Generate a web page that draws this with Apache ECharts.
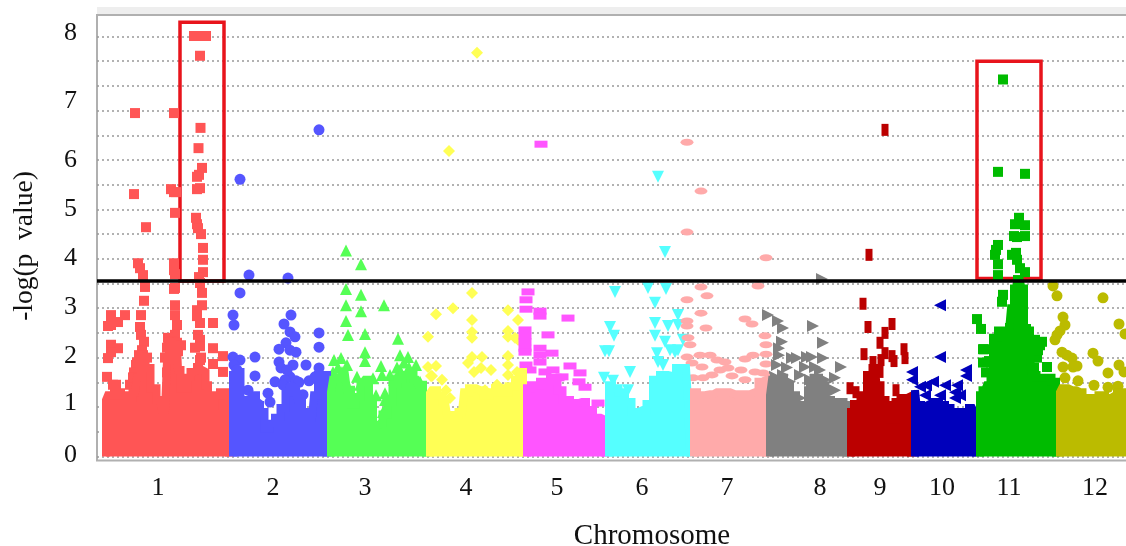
<!DOCTYPE html>
<html><head><meta charset="utf-8">
<style>html,body{margin:0;padding:0;background:#fff}#c{width:1126px;height:546px}</style>
<script src="https://cdn.jsdelivr.net/npm/echarts@6/dist/echarts.min.js"></script>
</head><body><div id="c"></div>
<script>
const chromosomeNames = ['1','2','3','4','5','6','7','8','9','10','11','12'];
const chromosomeLabelPositions = [61,176,268,369,460,545,630,723,783,845,912,998];
const yLabelValues = [0.03,1.08,2.03,3.02,4.02,5.01,6.0,7.19,8.57];
const yLabelTexts = ['0','1','2','3','4','5','6','7','8'];
const threshold = 3.55;
const highlightA = [[83,8.79],[127,3.55]];
const highlightB = [[880,8.0],[944,3.6]];

// solid mass of overlapping markers: [genome position, upper -log p]
const mass1 = [[9,0],[9,1.14],[13,1.24],[21,1.30],[27,1.24],[33,1.18],[38,1.30],[42,1.59],[46,1.85],[51,1.79],[56,1.38],[63,1.14],[67,0.92],[69,0.90],[71,1.95],[75,2.25],[80,2.25],[82,1.75],[85,1.38],[89,1.38],[92,1.59],[95,1.71],[99,1.75],[103,1.75],[107,1.71],[110,1.44],[112,1.14],[116,1.02],[119,1.24],[127,1.30],[132,1.24],[132,0]];
const mass2 = [[136,0],[136,1.65],[141,1.71],[146,1.14],[153,1.14],[157,1.24],[161,1.04],[165,0.90],[170,0.57],[175,0.66],[181,0.78],[186,0.98],[191,1.30],[199,1.38],[203,1.14],[207,0.90],[215,0.78],[219,1.24],[223,1.65],[230,1.65],[230,0]];
const mass3 = [[234,0],[234,1.30],[238,1.55],[243,1.60],[248,1.65],[252,1.35],[256,1.05],[261,1.20],[266,1.50],[270,1.55],[274,1.10],[278,0.62],[283,0.66],[288,0.85],[293,1.10],[298,1.45],[303,1.55],[308,1.65],[314,1.65],[319,1.55],[323,1.45],[329,0.90],[329,0]];
const mass4 = [[333,0],[333,1.28],[337,1.34],[343,1.24],[348,1.10],[352,0.84],[358,0.84],[365,0.90],[369,1.30],[375,1.38],[383,1.34],[390,1.24],[395,1.30],[401,1.38],[408,1.30],[415,1.42],[421,1.55],[426,1.71],[426,0]];
const mass5 = [[430,0],[430,1.38],[438,1.44],[448,1.51],[458,1.59],[463,1.34],[468,1.14],[478,1.08],[485,1.10],[493,0.94],[499,0.78],[508,0.74],[508,0]];
const mass6 = [[512,0],[512,1.44],[518,1.38],[525,1.30],[531,1.10],[538,0.90],[546,0.94],[553,1.06],[559,1.55],[567,1.65],[575,1.63],[583,1.79],[589,1.79],[593,1.14],[593,0]];
const mass7 = [[597,0],[597,1.30],[603,1.24],[613,1.26],[620,1.30],[628,1.30],[638,1.26],[648,1.26],[658,1.30],[665,1.51],[669,1.55],[669,0]];
const mass8 = [[673,0],[673,1.24],[677,1.55],[684,1.59],[690,1.44],[696,1.24],[702,0.94],[708,1.04],[714,1.34],[719,1.59],[725,1.44],[731,1.14],[737,1.04],[743,1.10],[750,1.04],[750,0]];
const mass9 = [[754,0],[754,0.90],[760,1.06],[767,1.24],[773,1.65],[778,1.79],[781,1.44],[786,1.14],[791,1.04],[796,0.74],[801,1.10],[806,1.18],[814,1.22],[814,0]];
const mass10 = [[818,0],[818,1.34],[821,1.04],[827,0.84],[833,0.90],[839,1.10],[845,1.04],[851,0.98],[856,0.90],[863,0.84],[869,0.90],[875,0.98],[879,0.90],[879,0]];
const mass11 = [[883,0],[883,1.24],[888,1.34],[892,1.44],[895,1.60],[897,2.40],[905,2.55],[912,2.55],[916,3.00],[918,3.40],[923,3.55],[926,3.40],[928,2.60],[932,2.55],[934,2.00],[936,1.65],[943,1.59],[950,1.59],[959,1.51],[959,0]];
const mass12 = [[963,0],[963,1.30],[967,1.38],[975,1.34],[983,1.30],[988,1.18],[993,0.90],[998,1.18],[1005,1.24],[1011,1.18],[1017,1.22],[1023,1.30],[1035,1.22],[1035,0]];

// individually visible markers: [genome position, -log p]
const points1 = [[97,8.51],[101,8.51],[105,8.51],[109,8.51],[103,8.11],[38,6.95],[77,6.95],[103.5,6.65],[101.5,6.24],[105,5.84],[102,5.70],[100,5.66],[103,5.43],[100,5.41],[74,5.41],[77,5.35],[79,5.35],[37,5.31],[78,4.93],[99,4.83],[100,4.70],[101,4.62],[104,4.50],[49,4.64],[106,4.22],[106,3.98],[41,3.91],[43,3.81],[46,3.67],[77,3.91],[77,3.77],[78,3.69],[106,3.73],[102,3.63],[103,3.51],[78,3.41],[48,3.43],[105,3.31],[77,3.39],[47,3.15],[44,2.86],[43,2.62],[44,2.46],[47,2.32],[45,2.15],[39,1.85],[33,1.45],[78,3.06],[78,2.86],[80,2.66],[78,2.46],[71,2.40],[75,2.32],[73,2.15],[81,2.13],[77,1.95],[71,1.75],[105,3.06],[100,2.96],[100,2.84],[103,2.70],[116,2.70],[101,2.46],[103,2.36],[103,2.23],[116,2.19],[126,2.03],[116,1.87],[126,1.71],[101,1.79],[103,1.95],[14,2.86],[28,2.86],[14,2.66],[21,2.72],[11,2.64],[14,2.26],[21,2.19],[14,2.11],[11,1.99],[10,1.61],[16,1.45],[19,1.45],[37,1.70],[40,1.90],[42,2.05],[46,2.05],[50,2.00],[44,1.75],[50,1.60],[36,1.60],[72,2.30],[80,2.30],[84,2.25],[70,2.20],[68,2.00],[70,1.70],[72,1.50],[98,2.20],[104,2.00]];
const points2 = [[143,5.61],[152,3.67],[191,3.61],[222,6.61],[143,3.31],[136,2.86],[137,2.66],[194,2.86],[187,2.68],[193,2.52],[198,2.42],[189,2.30],[222,2.50],[222,2.21],[182,2.17],[193,2.15],[199,2.11],[158,2.01],[136,2.01],[143,1.95],[182,1.91],[184,1.79],[209,1.85],[158,1.63],[193,1.61],[199,1.53],[212,1.53],[222,1.79],[218,1.61],[151,1.34],[161,1.06],[173,1.10],[171,1.28],[178,1.51],[188,1.55],[137,1.85],[140,1.75],[196,1.85],[190,1.75],[202,1.50],[186,1.45],[194,1.40],[206,1.25]];
const points3 = [[249,4.17],[264,3.89],[249,3.39],[264,3.27],[249,3.06],[264,2.94],[287,3.06],[249,2.74],[251,2.46],[268,2.48],[301,2.38],[268,2.11],[268,1.93],[303,2.05],[237,1.95],[244,1.99],[284,1.83],[260,1.61],[276,1.58],[311,2.01],[319,1.85],[285,1.65],[248,1.55],[266,1.34],[279,1.24],[288,1.28],[297,1.55],[293,1.65],[303,1.75],[323,1.51],[319,1.55],[323,1.30],[236,1.71],[233,1.55],[245,1.71],[250,1.85],[263,1.45],[286,0.90],[288,1.14],[307,1.90],[312,1.80],[300,1.80],[241,1.80]];
const points4 = [[380,8.17],[352,6.18],[375,3.31],[339,2.88],[356,3.00],[375,2.76],[411,2.96],[421,2.76],[331,2.42],[375,2.52],[375,2.40],[411,2.54],[411,2.42],[421,2.36],[418,2.40],[375,2.01],[385,2.01],[371,1.89],[411,2.03],[411,1.85],[384,1.79],[394,1.75],[377,1.71],[411,1.65],[420,1.71],[339,1.83],[335,1.63],[331,1.81],[334,1.63],[353,1.18],[349,1.34],[345,1.55],[388,1.34],[400,1.45],[403,1.14]];
const points5 = [[444,6.32],[431,3.33],[429,3.17],[429,2.98],[443,2.94],[443,2.84],[471,2.80],[428,2.56],[428,2.44],[428,2.32],[428,2.19],[428,2.11],[451,2.46],[455,2.09],[443,2.19],[443,2.05],[443,1.91],[473,1.83],[483,1.69],[482,1.51],[488,1.40],[501,1.08],[429,1.85],[433,1.75],[448,1.71],[456,1.75],[461,1.59],[465,1.61]];
const points6 = [[561,5.66],[568,4.14],[518,3.33],[551,3.41],[569,3.39],[558,3.11],[581,2.86],[558,2.70],[571,2.64],[581,2.66],[513,2.62],[517,2.44],[558,2.44],[586,2.36],[508,2.13],[512,2.13],[560,2.09],[568,2.32],[573,2.15],[581,2.15],[533,1.71],[561,1.91],[566,1.85],[578,2.11],[507,1.59],[516,1.53],[531,1.34]];
const points7 = [[590,6.36],[604,5.37],[590,4.54],[669,4.02],[604,3.43],[610,3.25],[590,3.17],[604,2.90],[648,2.78],[655,2.68],[661,3.45],[590,2.74],[590,2.64],[609,2.60],[591,2.40],[593,2.26],[603,2.05],[613,2.05],[620,1.95],[648,1.97],[656,2.05],[590,2.01],[595,1.89],[605,1.81],[628,1.91],[615,1.65],[623,1.75],[631,1.79],[635,1.63],[606,1.59],[596,1.59],[644,1.75],[648,1.55],[668,2.44],[669,2.26],[669,2.07],[669,1.87],[658,1.71],[666,1.69]];
const points8 = [[725,3.59],[671,2.86],[681,2.74],[686,2.60],[716,2.64],[726,2.30],[685,2.32],[682,2.19],[682,2.05],[695,1.99],[700,1.99],[710,2.01],[715,2.01],[726,1.99],[744,1.81],[708,1.81],[718,1.81],[723,1.75],[738,1.59],[703,1.65],[686,1.65],[693,1.51],[713,1.55],[728,1.55],[678,1.61],[738,1.34],[703,1.18],[715,1.43],[680,1.85],[690,1.80]];
const points9 = [[788,6.61],[772,4.08],[766,3.09],[771,2.62],[795,2.68],[788,2.50],[783,2.30],[807,2.17],[767,2.07],[788,2.09],[808,1.99],[797,1.93],[795,2.03],[753,1.38],[759,1.30],[776,1.91],[783,1.71],[799,1.34],[784,1.95]];
const points10 = [[843,3.06],[843,2.01],[815,1.71],[815,1.55],[869,1.75],[869,1.63],[836,1.51],[823,1.41],[829,1.44],[848,1.44],[860,1.44],[858,1.30],[858,1.18],[828,1.24],[843,1.24],[828,1.04],[863,1.24]];
const points11 = [[906,7.63],[901,5.76],[928,5.72],[922,4.83],[918,4.70],[928,4.68],[917,4.46],[920,4.44],[928,4.46],[901,4.28],[899,4.18],[898,4.08],[915,4.08],[919,4.12],[920,3.98],[923,3.81],[928,3.73],[901,3.89],[901,3.67],[921,3.57],[906,3.27],[905,3.13],[921,3.51],[921,3.27],[920,3.06],[921,2.86],[920,2.66],[880,2.78],[884,2.58],[887,2.17],[886,2.17],[892,1.93],[950,1.81],[945,2.32],[938,2.36],[933,2.32],[936,2.05],[903,2.36],[903,2.15],[913,2.60],[915,2.15],[940,2.00],[937,1.80],[943,2.25],[941,2.15],[886,1.90],[889,1.70],[894,1.90],[898,2.00]];
const points12 = [[956,3.45],[960,3.25],[1006,3.21],[966,2.82],[1022,2.68],[1028,2.48],[968,2.66],[963,2.54],[960,2.46],[958,2.36],[965,2.11],[970,2.05],[975,1.99],[996,2.09],[1001,1.93],[966,1.81],[976,1.81],[980,1.83],[1011,1.69],[1022,1.85],[1027,1.71],[981,1.53],[997,1.44],[1011,1.40],[1021,1.42],[968,1.59]];

const masses = [mass1,mass2,mass3,mass4,mass5,mass6,mass7,mass8,mass9,mass10,mass11,mass12];
const pointSets = [points1,points2,points3,points4,points5,points6,points7,points8,points9,points10,points11,points12];
const colors = ['#ff5555','#5555ff','#55ff55','#ffff55','#ff55ff','#55ffff','#ffaaaa','#808080','#bb0000','#0000bb','#00bb00','#bbbb00'];
const symbols = ['rect','circle','triangle','diamond','rect','triangle','circle','triangle','rect','triangle','rect','circle'];
const sizes = [10,11,12,12,[13,7],12,[13,7],12,[7,12],12,10,11];
const rotations = [0,0,0,0,0,180,0,-90,0,90,0,0];

const serif = '"Liberation Serif","Times New Roman",serif';
const series = [];
chromosomeNames.forEach((name,i)=>{
  series.push({type:'line',name:'chr'+name+' mass',data:masses[i],symbol:'none',clip:false,silent:true,step:'middle',
    lineStyle:{color:colors[i],width:8,join:'miter'},areaStyle:{color:colors[i],opacity:1}});
  series.push({type:'scatter',name:'chr'+name,data:pointSets[i],symbol:symbols[i],symbolSize:sizes[i],
    symbolRotate:rotations[i],itemStyle:{color:colors[i],opacity:1},clip:false});
});
series.push({type:'line',name:'threshold',data:[[0,threshold],[1029,threshold]],symbol:'none',z:5,
  lineStyle:{color:'#000',width:3.5},
  markArea:{silent:true,itemStyle:{color:'rgba(0,0,0,0)',borderColor:'#e8141c',borderWidth:3.5},
    data:[[{coord:highlightA[0]},{coord:highlightA[1]}],[{coord:highlightB[0]},{coord:highlightB[1]}]]}});

const chart = echarts.init(document.getElementById('c'),null,{renderer:'canvas'});
chart.setOption({
  animation:false,backgroundColor:'#fff',
  grid:{left:97,right:0,top:11.8,height:444.6},
  xAxis:{type:'value',min:0,max:1029,splitLine:{show:false},axisLine:{show:false},axisTick:{show:false},
    axisLabel:{customValues:chromosomeLabelPositions,margin:19,fontFamily:serif,fontSize:26,color:'#111',
      formatter:v=>chromosomeNames[chromosomeLabelPositions.indexOf(v)]}},
  yAxis:{type:'value',min:0,max:9,interval:0.5,axisLine:{show:false},axisTick:{show:false},
    splitLine:{show:true,showMaxLine:false,lineStyle:{color:'#999',type:[2,3],width:1.5}},
    axisLabel:{customValues:yLabelValues,margin:20,fontFamily:serif,fontSize:26,color:'#111',
      formatter:v=>yLabelTexts[yLabelValues.indexOf(v)]}},
  graphic:[
    {type:'rect',z:0,shape:{x:97,y:7,width:1029,height:8},style:{fill:'#eeeeee'}},
    {type:'rect',z:0,shape:{x:97,y:15,width:1040,height:445.5},style:{fill:'#fff',stroke:'#b0b0b0',lineWidth:2}},
    {type:'text',z:10,x:652,y:536,style:{text:'Chromosome',font:'29px '+serif,fill:'#111',textAlign:'center',textVerticalAlign:'middle'}},
    {type:'text',z:10,x:25,y:246,rotation:Math.PI/2,style:{text:'-log(p  value)',font:'27.5px '+serif,fill:'#111',textAlign:'center',textVerticalAlign:'middle'}}
  ],
  series
});
</script></body></html>
